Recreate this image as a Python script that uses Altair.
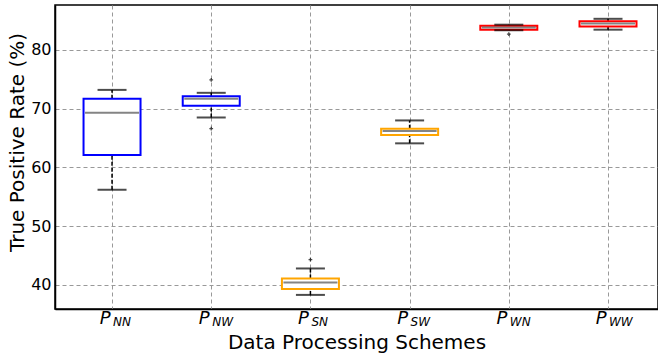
import altair as alt
import pandas as pd

# ---- data ----
schemes = ["NN", "NW", "SN", "SW", "WN", "WW"]
colors = ["#0000ff", "#0000ff", "#ffa500", "#ffa500", "#ff0000", "#ff0000"]
q1 = [62.1, 70.5, 39.3, 65.5, 83.45, 84.0]
median = [69.3, 71.7, 40.4, 66.2, 83.8, 84.5]
q3 = [71.7, 72.1, 41.1, 66.6, 84.1, 84.9]
whisk_lo = [56.2, 68.5, 38.3, 64.1, 83.35, 83.45]
whisk_hi = [73.2, 72.7, 42.8, 68.0, 84.3, 85.3]
flier_scheme = ["NW", "NW", "SN", "WN"]
flier_value = [74.9, 66.6, 44.3, 82.7]

idx = list(range(len(schemes)))
df = pd.DataFrame({
    "scheme": schemes, "idx": idx, "color": colors,
    "q1": q1, "median": median, "q3": q3, "lo": whisk_lo, "hi": whisk_hi,
})
fl = pd.DataFrame({"scheme": flier_scheme, "value": flier_value})
fl["idx"] = [schemes.index(s) for s in flier_scheme]

FONT = "DejaVu Sans"
xscale = alt.Scale(domain=[-0.575, 5.504], nice=False, zero=False, padding=0)
yscale = alt.Scale(domain=[35.9, 87.65], nice=False, zero=False, padding=0)

grid = dict(grid=True, gridColor="#999999", gridDash=[4, 3], gridWidth=1,
            domainColor="black", domainWidth=1.5, ticks=False)

xenc = alt.X("idx:Q", scale=xscale, axis=alt.Axis(
    values=idx, labels=False, title="Data Processing Schemes",
    titleFont=FONT, titleFontSize=20, titleFontWeight="normal", titleColor="black",
    titleBaseline="alphabetic", titleY=39, **grid))

base = alt.Chart(df)

whisk_up = base.mark_rule(color="black", strokeWidth=1.5, strokeDash=[4, 2]).encode(
    x=xenc,
    y=alt.Y("q3:Q", scale=yscale, axis=alt.Axis(
        values=[40, 50, 60, 70, 80], title="True Positive Rate (%)",
        labelFont=FONT, labelFontSize=16, labelColor="black", labelPadding=4,
        titleFont=FONT, titleFontSize=20, titleFontWeight="normal", titleColor="black",
        titleBaseline="middle", titleX=-38, titleY=137, titleAlign="center", **grid)),
    y2="hi:Q",
)
whisk_dn = base.mark_rule(color="black", strokeWidth=1.5, strokeDash=[4, 2]).encode(
    x="idx:Q", y="lo:Q", y2="q1:Q")

boxes = base.mark_bar(size=57, fill="white", strokeWidth=2).encode(
    x="idx:Q", y="q1:Q", y2="q3:Q",
    stroke=alt.Stroke("color:N", scale=None))

med = base.mark_tick(orient="horizontal", size=54, thickness=2, color="#505050").encode(
    x="idx:Q", y="median:Q")

cap_hi = base.mark_tick(orient="horizontal", size=29, thickness=2, color="black").encode(
    x="idx:Q", y="hi:Q")
cap_lo = base.mark_tick(orient="horizontal", size=29, thickness=2, color="black").encode(
    x="idx:Q", y="lo:Q")

fliers = alt.Chart(fl).mark_point(
    shape="M-1,0L1,0M0,-1L0,1", size=14, filled=False, color="black", strokeWidth=1.3
).encode(x="idx:Q", y="value:Q")

lab_p = base.mark_text(text="P", font=FONT, fontSize=18, fontStyle="italic",
                       align="right", baseline="alphabetic", dx=-1.5, color="black").encode(
    x="idx:Q", y=alt.value(318.5))
lab_sub = base.mark_text(font=FONT, fontSize=12, fontStyle="italic",
                         align="left", baseline="alphabetic", dx=1, color="black").encode(
    x="idx:Q", y=alt.value(320.5), text="scheme:N")

chart = alt.layer(
    whisk_up, whisk_dn, boxes, med, cap_hi, cap_lo, fliers, lab_p, lab_sub
).properties(
    width=603, height=304,
    autosize=alt.AutoSizeParams(type="none"),
    padding={"left": 55, "top": 5, "right": 0, "bottom": 46},
    background="white",
).configure_view(stroke="black", strokeWidth=1.5)

chart.save("out.html", embed_options={"renderer": "svg", "actions": False})
